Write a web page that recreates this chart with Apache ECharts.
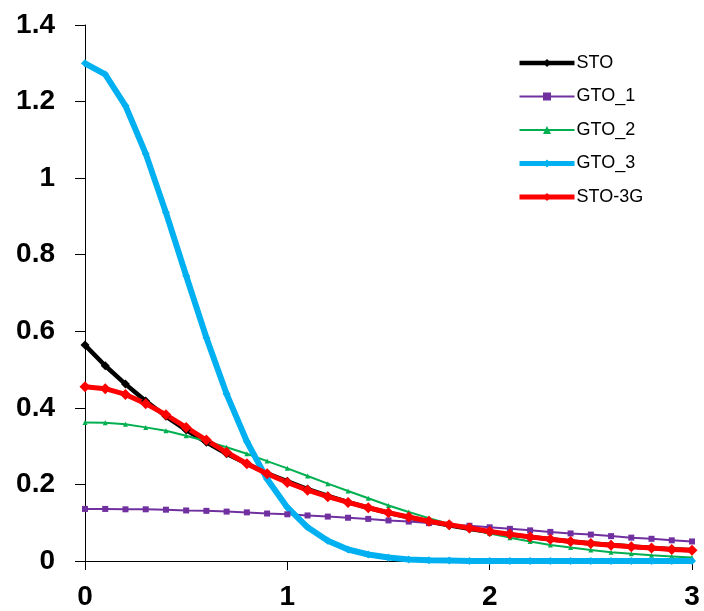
<!DOCTYPE html>
<html>
<head>
<meta charset="utf-8">
<script src="https://cdn.jsdelivr.net/npm/echarts@6/dist/echarts.min.js"></script>
<style>
  html, body { margin: 0; padding: 0; background: #fff; }
  #chart { width: 704px; height: 611px; }
</style>
</head>
<body>
<div id="chart"></div>
<script>
// r values, 0 .. 3 step 0.1
var rValues = [0, 0.1, 0.2, 0.3, 0.4, 0.5, 0.6, 0.7, 0.8, 0.9, 1.0, 1.1, 1.2, 1.3, 1.4, 1.5,
    1.6, 1.7, 1.8, 1.9, 2.0, 2.1, 2.2, 2.3, 2.4, 2.5, 2.6, 2.7, 2.8, 2.9, 3.0];

var stoValues = [0.564, 0.510, 0.462, 0.418, 0.378, 0.342, 0.310, 0.280, 0.254, 0.229, 0.208,
    0.188, 0.170, 0.154, 0.139, 0.126, 0.114, 0.103, 0.093, 0.084, 0.076, 0.069, 0.063, 0.057,
    0.051, 0.046, 0.042, 0.038, 0.034, 0.031, 0.028];

var gto1Values = [0.136, 0.136, 0.135, 0.135, 0.134, 0.132, 0.131, 0.129, 0.127, 0.124, 0.122,
    0.119, 0.116, 0.113, 0.110, 0.106, 0.103, 0.099, 0.095, 0.092, 0.088, 0.084, 0.080, 0.076,
    0.072, 0.069, 0.065, 0.061, 0.058, 0.054, 0.051];

var gto2Values = [0.362, 0.361, 0.357, 0.349, 0.340, 0.327, 0.313, 0.297, 0.280, 0.261, 0.242,
    0.222, 0.202, 0.183, 0.164, 0.145, 0.128, 0.112, 0.097, 0.084, 0.072, 0.061, 0.051, 0.042,
    0.035, 0.029, 0.023, 0.019, 0.015, 0.012, 0.009];

var gto3Values = [1.300, 1.271, 1.189, 1.064, 0.910, 0.745, 0.583, 0.436, 0.312, 0.214, 0.140,
    0.088, 0.053, 0.030, 0.017, 0.009, 0.004, 0.002, 0.001, 0, 0, 0, 0, 0,
    0, 0, 0, 0, 0, 0, 0];

var sto3gValues = [0.455, 0.450, 0.435, 0.411, 0.382, 0.349, 0.316, 0.284, 0.254, 0.228, 0.205,
    0.185, 0.168, 0.153, 0.139, 0.126, 0.115, 0.104, 0.095, 0.086, 0.077, 0.070, 0.063, 0.057,
    0.051, 0.046, 0.041, 0.037, 0.034, 0.030, 0.028];

var xTicks = [0, 1, 2, 3];
var yTicks = [0, 0.2, 0.4, 0.6, 0.8, 1, 1.2, 1.4];

function pairs(vals) {
    var out = [];
    for (var i = 0; i < rValues.length; i++) {
        out.push([rValues[i], vals[i]]);
    }
    return out;
}

// name, values, colour, line width, marker, marker size
var seriesDefs = [
    ['STO', stoValues, '#000000', 4.5, 'diamond', 9],
    ['GTO_1', gto1Values, '#7030A0', 2, 'rect', 6],
    ['GTO_2', gto2Values, '#00B050', 2, 'triangle', 5],
    ['GTO_3', gto3Values, '#00B0F0', 6, 'diamond', 8],
    ['STO-3G', sto3gValues, '#FF0000', 5, 'diamond', 11]
];

var series = seriesDefs.map(function (d) {
    return {
        name: d[0],
        type: 'line',
        data: pairs(d[1]),
        symbol: d[4],
        symbolSize: d[5],
        showSymbol: true,
        lineStyle: { color: d[2], width: d[3] },
        itemStyle: { color: d[2], borderWidth: 0 },
        animation: false
    };
});

var legendData = seriesDefs.map(function (d) {
    return { name: d[0], lineStyle: { width: Math.min(d[3], 5), color: d[2] } };
});

var chart = echarts.init(document.getElementById('chart'));

var option = {
    backgroundColor: '#ffffff',
    animation: false,
    grid: { left: 85, right: 12, top: 25, bottom: 50, containLabel: false },
    legend: {
        orient: 'vertical',
        left: 517,
        top: 54,
        padding: 0,
        itemWidth: 55,
        itemHeight: 10,
        itemGap: 15.5,
        textStyle: { fontFamily: 'Liberation Sans, Arial', fontSize: 18, color: '#000', padding: [0, 0, 0, -3] },
        data: legendData
    },
    xAxis: {
        type: 'value',
        min: xTicks[0],
        max: xTicks[xTicks.length - 1],
        interval: 1,
        splitLine: { show: false },
        axisLine: { lineStyle: { color: '#000', width: 1 } },
        axisTick: { show: true, length: 9, lineStyle: { color: '#000' } },
        axisLabel: {
            margin: 22,
            fontFamily: 'Liberation Sans, Arial',
            fontWeight: 'bold',
            fontSize: 28,
            color: '#000'
        }
    },
    yAxis: {
        type: 'value',
        min: yTicks[0],
        max: yTicks[yTicks.length - 1],
        interval: 0.2,
        splitLine: { show: false },
        axisLine: { show: true, lineStyle: { color: '#000', width: 1 } },
        axisTick: { show: true, length: 10, lineStyle: { color: '#000' } },
        axisLabel: {
            margin: 30,
            fontFamily: 'Liberation Sans, Arial',
            fontWeight: 'bold',
            fontSize: 28,
            color: '#000',
            formatter: function (v) { return String(Math.round(v * 10) / 10); }
        }
    },
    series: series
};

chart.setOption(option);
</script>
</body>
</html>
